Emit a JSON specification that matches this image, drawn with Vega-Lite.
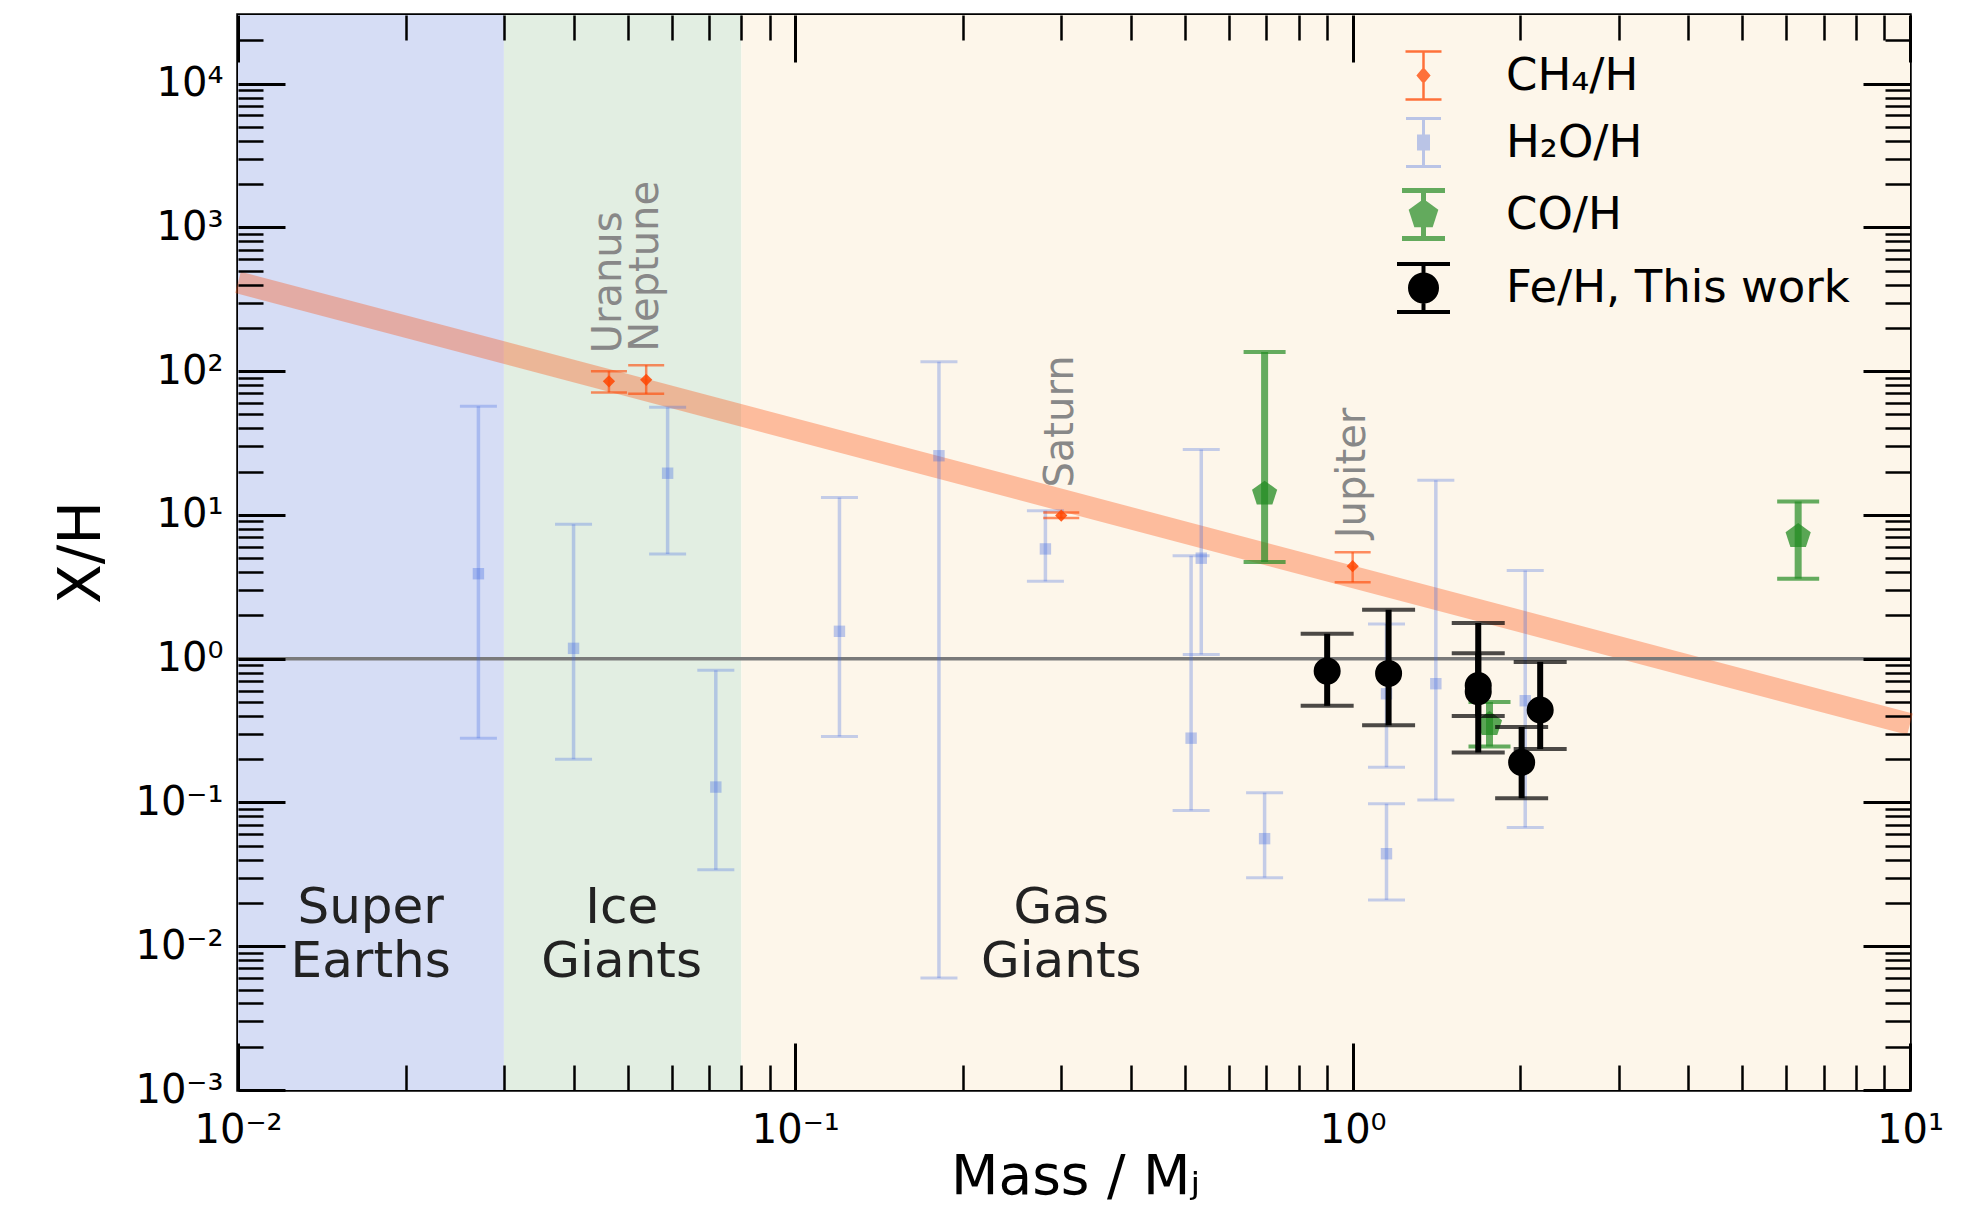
{
  "$schema": "https://vega.github.io/schema/vega-lite/v6.json",
  "width": 1672,
  "height": 1075,
  "autosize": {"type": "none"},
  "padding": {"left": 238, "top": 15, "right": 72, "bottom": 120},
  "background": "white",
  "config": {
    "view": {"stroke": "black", "strokeWidth": 3.5},
    "font": "DejaVu Sans",
    "axis": {"grid": false, "domain": false, "tickColor": "black", "labelColor": "black", "titleColor": "black", "labelFont": "DejaVu Sans", "titleFont": "DejaVu Sans", "titleFontWeight": "normal"}
  },
  "datasets": {
    "regions": [
      {"region": "Super Earths", "start": 0.01, "end": 0.03, "label": "Super\nEarths", "label_mass": 0.0173},
      {"region": "Ice Giants", "start": 0.03, "end": 0.08, "label": "Ice\nGiants", "label_mass": 0.0488},
      {"region": "Gas Giants", "start": 0.08, "end": 10, "label": "Gas\nGiants", "label_mass": 0.30}
    ],
    "band": [{"mass": 0.01, "value": 415}, {"mass": 10, "value": 0.35}],
    "ch4": [
      {"species": "CH₄/H", "planet": "Uranus", "mass": 0.0463, "value": 85, "lo": 71, "hi": 100},
      {"species": "CH₄/H", "planet": "Neptune", "mass": 0.054, "value": 87, "lo": 69.5, "hi": 110},
      {"species": "CH₄/H", "planet": "Saturn", "mass": 0.30, "value": 9.9, "lo": 9.5, "hi": 10.4},
      {"species": "CH₄/H", "planet": "Jupiter", "mass": 1.0, "value": 4.4, "lo": 3.4, "hi": 5.5}
    ],
    "h2o": [
      {"species": "H₂O/H", "mass": 0.027, "value": 3.9, "lo": 0.28, "hi": 57},
      {"species": "H₂O/H", "mass": 0.040, "value": 1.18, "lo": 0.2, "hi": 8.6},
      {"species": "H₂O/H", "mass": 0.059, "value": 19.5, "lo": 5.35, "hi": 56},
      {"species": "H₂O/H", "mass": 0.072, "value": 0.128, "lo": 0.034, "hi": 0.83},
      {"species": "H₂O/H", "mass": 0.12, "value": 1.55, "lo": 0.288, "hi": 13.2},
      {"species": "H₂O/H", "mass": 0.181, "value": 25.8, "lo": 0.006, "hi": 116},
      {"species": "H₂O/H", "mass": 0.281, "value": 5.8, "lo": 3.45, "hi": 10.7},
      {"species": "H₂O/H", "mass": 0.513, "value": 0.28, "lo": 0.088, "hi": 5.2},
      {"species": "H₂O/H", "mass": 0.535, "value": 5.0, "lo": 1.07, "hi": 28.5},
      {"species": "H₂O/H", "mass": 0.695, "value": 0.056, "lo": 0.030, "hi": 0.117},
      {"species": "H₂O/H", "mass": 1.15, "value": 0.044, "lo": 0.021, "hi": 0.098},
      {"species": "H₂O/H", "mass": 1.15, "value": 0.57, "lo": 0.176, "hi": 1.74},
      {"species": "H₂O/H", "mass": 1.41, "value": 0.67, "lo": 0.104, "hi": 17.4},
      {"species": "H₂O/H", "mass": 2.04, "value": 0.51, "lo": 0.067, "hi": 4.1}
    ],
    "co": [
      {"species": "CO/H", "mass": 0.695, "value": 14, "lo": 4.7, "hi": 136},
      {"species": "CO/H", "mass": 1.76, "value": 0.35, "lo": 0.245, "hi": 0.50},
      {"species": "CO/H", "mass": 6.3, "value": 7.1, "lo": 3.6, "hi": 12.4}
    ],
    "fe": [
      {"species": "Fe/H, This work", "mass": 0.90, "value": 0.82, "lo": 0.47, "hi": 1.49},
      {"species": "Fe/H, This work", "mass": 1.16, "value": 0.79, "lo": 0.344, "hi": 2.19},
      {"species": "Fe/H, This work", "mass": 1.68, "value": 0.59, "lo": 0.40, "hi": 1.09},
      {"species": "Fe/H, This work", "mass": 1.68, "value": 0.65, "lo": 0.223, "hi": 1.77},
      {"species": "Fe/H, This work", "mass": 2.01, "value": 0.19, "lo": 0.107, "hi": 0.335},
      {"species": "Fe/H, This work", "mass": 2.17, "value": 0.44, "lo": 0.235, "hi": 0.95}
    ]
  },
  "layer": [
    {
      "data": {"name": "regions"},
      "transform": [{"filter": "datum.region === 'Super Earths'"}],
      "mark": {"type": "rect", "color": "#d6ddf5"},
      "encoding": {
        "x": {"field": "start", "type": "quantitative", "scale": {"type": "log", "domain": [0.01, 10], "nice": false}, "axis": null},
        "x2": {"field": "end"}
      }
    },
    {
      "data": {"name": "regions"},
      "transform": [{"filter": "datum.region === 'Ice Giants'"}],
      "mark": {"type": "rect", "color": "#e2eee2"},
      "encoding": {
        "x": {"field": "start", "type": "quantitative", "scale": {"type": "log", "domain": [0.01, 10], "nice": false}, "axis": null},
        "x2": {"field": "end"}
      }
    },
    {
      "data": {"name": "regions"},
      "transform": [{"filter": "datum.region === 'Gas Giants'"}],
      "mark": {"type": "rect", "color": "#fdf6ea"},
      "encoding": {
        "x": {"field": "start", "type": "quantitative", "scale": {"type": "log", "domain": [0.01, 10], "nice": false}, "axis": null},
        "x2": {"field": "end"}
      }
    },
    {
      "data": {"name": "band"},
      "mark": {"type": "line", "color": "#ff4500", "opacity": 0.33, "strokeWidth": 22, "strokeCap": "butt"},
      "encoding": {
        "x": {"field": "mass", "type": "quantitative", "scale": {"type": "log", "domain": [0.01, 10], "nice": false}, "axis": null},
        "y": {"field": "value", "type": "quantitative", "scale": {"type": "log", "domain": [0.001, 30000], "nice": false}, "axis": null}
      }
    },
    {
      "data": {"values": [{}]},
      "mark": {"type": "rule", "color": "#7a7a7a", "strokeWidth": 3.5},
      "encoding": {
        "y": {"datum": 1, "type": "quantitative", "scale": {"type": "log", "domain": [0.001, 30000], "nice": false}, "axis": null}
      }
    },
    {
      "data": {"name": "h2o"},
      "mark": {"type": "rule", "color": "#4169e1", "opacity": 0.3, "strokeWidth": 3.5},
      "encoding": {
        "x": {"field": "mass", "type": "quantitative", "scale": {"type": "log", "domain": [0.01, 10], "nice": false},
          "axis": {"orient": "bottom", "zindex": 1, "values": [0.01, 0.1, 1, 10],
            "labelExpr": "datum.value < 0.05 ? '10⁻²' : datum.value < 0.5 ? '10⁻¹' : datum.value < 5 ? '10⁰' : '10¹'",
            "tickSize": -47, "tickWidth": 3, "labelFontSize": 40, "labelPadding": 99, "labelBaseline": "alphabetic", "labelAlign": "center",
            "labelFlush": false, "labelOverlap": false, "labelBound": false,
            "title": "Mass / Mⱼ", "titleFontSize": 55, "titleX": 837, "titleY": 103, "titleBaseline": "alphabetic", "titleAlign": "center"}},
        "y": {"field": "lo", "type": "quantitative", "scale": {"type": "log", "domain": [0.001, 30000], "nice": false},
          "axis": {"orient": "left", "zindex": 1, "values": [0.001, 0.01, 0.1, 1, 10, 100, 1000, 10000],
            "labelExpr": "datum.value < 0.005 ? '10⁻³' : datum.value < 0.05 ? '10⁻²' : datum.value < 0.5 ? '10⁻¹' : datum.value < 5 ? '10⁰' : datum.value < 50 ? '10¹' : datum.value < 500 ? '10²' : datum.value < 5000 ? '10³' : '10⁴'",
            "tickSize": -47, "tickWidth": 3, "labelFontSize": 40, "labelPadding": 62, "labelAlign": "right", "labelBaseline": "middle",
            "labelFlush": false, "labelOverlap": false, "labelBound": false,
            "title": "X/H", "titleFontSize": 58, "titleX": -156, "titleY": 537, "titleAngle": 270, "titleBaseline": "middle", "titleAlign": "center"}},
        "y2": {"field": "hi"}
      }
    },
    {
      "data": {"name": "h2o"},
      "mark": {"type": "tick", "orient": "horizontal", "color": "#4169e1", "opacity": 0.3, "size": 37, "thickness": 3},
      "encoding": {
        "x": {"field": "mass", "type": "quantitative", "scale": {"type": "log", "domain": [0.01, 10], "nice": false}, "axis": null},
        "y": {"field": "lo", "type": "quantitative", "scale": {"type": "log", "domain": [0.001, 30000], "nice": false}, "axis": null}
      }
    },
    {
      "data": {"name": "h2o"},
      "mark": {"type": "tick", "orient": "horizontal", "color": "#4169e1", "opacity": 0.3, "size": 37, "thickness": 3},
      "encoding": {
        "x": {"field": "mass", "type": "quantitative", "scale": {"type": "log", "domain": [0.01, 10], "nice": false}, "axis": null},
        "y": {"field": "hi", "type": "quantitative", "scale": {"type": "log", "domain": [0.001, 30000], "nice": false}, "axis": null}
      }
    },
    {
      "data": {"name": "h2o"},
      "mark": {"type": "point", "filled": true, "shape": "square", "size": 130, "opacity": 0.35, "color": "#4169e1"},
      "encoding": {
        "x": {"field": "mass", "type": "quantitative", "scale": {"type": "log", "domain": [0.01, 10], "nice": false},
          "axis": {"orient": "bottom", "zindex": 1, "values": [0.02, 0.03, 0.04, 0.05, 0.06, 0.07, 0.08, 0.09, 0.2, 0.3, 0.4, 0.5, 0.6, 0.7, 0.8, 0.9, 2, 3, 4, 5, 6, 7, 8, 9],
            "labels": false, "tickSize": -25, "tickWidth": 2.5, "title": null}},
        "y": {"field": "value", "type": "quantitative", "scale": {"type": "log", "domain": [0.001, 30000], "nice": false},
          "axis": {"orient": "left", "zindex": 1, "values": [0.002, 0.003, 0.004, 0.005, 0.006, 0.007, 0.008, 0.009, 0.02, 0.03, 0.04, 0.05, 0.06, 0.07, 0.08, 0.09, 0.2, 0.3, 0.4, 0.5, 0.6, 0.7, 0.8, 0.9, 2, 3, 4, 5, 6, 7, 8, 9, 20, 30, 40, 50, 60, 70, 80, 90, 200, 300, 400, 500, 600, 700, 800, 900, 2000, 3000, 4000, 5000, 6000, 7000, 8000, 9000, 20000],
            "labels": false, "tickSize": -25, "tickWidth": 2.5, "title": null}}
      }
    },
    {
      "data": {"name": "ch4"},
      "mark": {"type": "rule", "color": "#ff4500", "opacity": 0.6, "strokeWidth": 2.5},
      "encoding": {
        "x": {"field": "mass", "type": "quantitative", "scale": {"type": "log", "domain": [0.01, 10], "nice": false},
          "axis": {"orient": "top", "zindex": 1, "values": [0.01, 0.1, 1, 10], "labels": false, "tickSize": -47, "tickWidth": 3, "title": null}},
        "y": {"field": "lo", "type": "quantitative", "scale": {"type": "log", "domain": [0.001, 30000], "nice": false},
          "axis": {"orient": "right", "zindex": 1, "values": [0.001, 0.01, 0.1, 1, 10, 100, 1000, 10000], "labels": false, "tickSize": -47, "tickWidth": 3, "title": null}},
        "y2": {"field": "hi"}
      }
    },
    {
      "data": {"name": "ch4"},
      "mark": {"type": "tick", "orient": "horizontal", "color": "#ff4500", "opacity": 0.6, "size": 36, "thickness": 2.5},
      "encoding": {
        "x": {"field": "mass", "type": "quantitative", "scale": {"type": "log", "domain": [0.01, 10], "nice": false}, "axis": null},
        "y": {"field": "lo", "type": "quantitative", "scale": {"type": "log", "domain": [0.001, 30000], "nice": false}, "axis": null}
      }
    },
    {
      "data": {"name": "ch4"},
      "mark": {"type": "tick", "orient": "horizontal", "color": "#ff4500", "opacity": 0.6, "size": 36, "thickness": 2.5},
      "encoding": {
        "x": {"field": "mass", "type": "quantitative", "scale": {"type": "log", "domain": [0.01, 10], "nice": false}, "axis": null},
        "y": {"field": "hi", "type": "quantitative", "scale": {"type": "log", "domain": [0.001, 30000], "nice": false}, "axis": null}
      }
    },
    {
      "data": {"name": "ch4"},
      "mark": {"type": "point", "filled": true, "shape": "diamond", "size": 150, "opacity": 0.85, "color": "#ff4500"},
      "encoding": {
        "x": {"field": "mass", "type": "quantitative", "scale": {"type": "log", "domain": [0.01, 10], "nice": false},
          "axis": {"orient": "top", "zindex": 1, "values": [0.02, 0.03, 0.04, 0.05, 0.06, 0.07, 0.08, 0.09, 0.2, 0.3, 0.4, 0.5, 0.6, 0.7, 0.8, 0.9, 2, 3, 4, 5, 6, 7, 8, 9],
            "labels": false, "tickSize": -25, "tickWidth": 2.5, "title": null}},
        "y": {"field": "value", "type": "quantitative", "scale": {"type": "log", "domain": [0.001, 30000], "nice": false},
          "axis": {"orient": "right", "zindex": 1, "values": [0.002, 0.003, 0.004, 0.005, 0.006, 0.007, 0.008, 0.009, 0.02, 0.03, 0.04, 0.05, 0.06, 0.07, 0.08, 0.09, 0.2, 0.3, 0.4, 0.5, 0.6, 0.7, 0.8, 0.9, 2, 3, 4, 5, 6, 7, 8, 9, 20, 30, 40, 50, 60, 70, 80, 90, 200, 300, 400, 500, 600, 700, 800, 900, 2000, 3000, 4000, 5000, 6000, 7000, 8000, 9000, 20000],
            "labels": false, "tickSize": -25, "tickWidth": 2.5, "title": null}}
      }
    },
    {
      "data": {"name": "co"},
      "mark": {"type": "rule", "color": "#228b22", "opacity": 0.7, "strokeWidth": 7},
      "encoding": {
        "x": {"field": "mass", "type": "quantitative", "scale": {"type": "log", "domain": [0.01, 10], "nice": false}, "axis": null},
        "y": {"field": "lo", "type": "quantitative", "scale": {"type": "log", "domain": [0.001, 30000], "nice": false}, "axis": null},
        "y2": {"field": "hi"}
      }
    },
    {
      "data": {"name": "co"},
      "mark": {"type": "tick", "orient": "horizontal", "color": "#228b22", "opacity": 0.7, "size": 42, "thickness": 4},
      "encoding": {
        "x": {"field": "mass", "type": "quantitative", "scale": {"type": "log", "domain": [0.01, 10], "nice": false}, "axis": null},
        "y": {"field": "lo", "type": "quantitative", "scale": {"type": "log", "domain": [0.001, 30000], "nice": false}, "axis": null}
      }
    },
    {
      "data": {"name": "co"},
      "mark": {"type": "tick", "orient": "horizontal", "color": "#228b22", "opacity": 0.7, "size": 42, "thickness": 4},
      "encoding": {
        "x": {"field": "mass", "type": "quantitative", "scale": {"type": "log", "domain": [0.01, 10], "nice": false}, "axis": null},
        "y": {"field": "hi", "type": "quantitative", "scale": {"type": "log", "domain": [0.001, 30000], "nice": false}, "axis": null}
      }
    },
    {
      "data": {"name": "co"},
      "mark": {"type": "point", "filled": true, "shape": "M0,-1L0.951,-0.309L0.588,0.809L-0.588,0.809L-0.951,-0.309Z", "size": 700, "opacity": 0.75, "color": "#228b22"},
      "encoding": {
        "x": {"field": "mass", "type": "quantitative", "scale": {"type": "log", "domain": [0.01, 10], "nice": false}, "axis": null},
        "y": {"field": "value", "type": "quantitative", "scale": {"type": "log", "domain": [0.001, 30000], "nice": false}, "axis": null}
      }
    },
    {
      "data": {"name": "fe"},
      "mark": {"type": "rule", "color": "#000000", "strokeWidth": 6},
      "encoding": {
        "x": {"field": "mass", "type": "quantitative", "scale": {"type": "log", "domain": [0.01, 10], "nice": false}, "axis": null},
        "y": {"field": "lo", "type": "quantitative", "scale": {"type": "log", "domain": [0.001, 30000], "nice": false}, "axis": null},
        "y2": {"field": "hi"}
      }
    },
    {
      "data": {"name": "fe"},
      "mark": {"type": "tick", "orient": "horizontal", "color": "#000000", "size": 53, "thickness": 4},
      "encoding": {
        "x": {"field": "mass", "type": "quantitative", "scale": {"type": "log", "domain": [0.01, 10], "nice": false}, "axis": null},
        "y": {"field": "lo", "type": "quantitative", "scale": {"type": "log", "domain": [0.001, 30000], "nice": false}, "axis": null}
      }
    },
    {
      "data": {"name": "fe"},
      "mark": {"type": "tick", "orient": "horizontal", "color": "#000000", "size": 53, "thickness": 4},
      "encoding": {
        "x": {"field": "mass", "type": "quantitative", "scale": {"type": "log", "domain": [0.01, 10], "nice": false}, "axis": null},
        "y": {"field": "hi", "type": "quantitative", "scale": {"type": "log", "domain": [0.001, 30000], "nice": false}, "axis": null}
      }
    },
    {
      "data": {"name": "fe"},
      "mark": {"type": "point", "filled": true, "shape": "circle", "size": 730, "opacity": 1, "color": "#000000"},
      "encoding": {
        "x": {"field": "mass", "type": "quantitative", "scale": {"type": "log", "domain": [0.01, 10], "nice": false}, "axis": null},
        "y": {"field": "value", "type": "quantitative", "scale": {"type": "log", "domain": [0.001, 30000], "nice": false}, "axis": null}
      }
    },
    {
      "data": {"name": "ch4"},
      "mark": {"type": "text", "angle": 270, "align": "left", "baseline": "middle", "dx": 28, "fontSize": 40, "color": "#888888", "font": "DejaVu Sans"},
      "encoding": {
        "x": {"field": "mass", "type": "quantitative", "scale": {"type": "log", "domain": [0.01, 10], "nice": false}, "axis": null},
        "y": {"field": "value", "type": "quantitative", "scale": {"type": "log", "domain": [0.001, 30000], "nice": false}, "axis": null},
        "text": {"field": "planet"}
      }
    },
    {
      "data": {"name": "regions"},
      "mark": {"type": "text", "align": "center", "baseline": "alphabetic", "fontSize": 50, "lineHeight": 54, "lineBreak": "\n", "color": "#222222", "font": "DejaVu Sans"},
      "encoding": {
        "x": {"field": "label_mass", "type": "quantitative", "scale": {"type": "log", "domain": [0.01, 10], "nice": false}, "axis": null},
        "y": {"datum": 0.01452, "type": "quantitative", "scale": {"type": "log", "domain": [0.001, 30000], "nice": false}, "axis": null},
        "text": {"field": "label"}
      }
    },
    {
      "data": {"values": []},
      "mark": {"type": "point", "filled": true, "size": 2500, "opacity": 1},
      "encoding": {
        "fill": {"field": "species", "type": "nominal",
          "scale": {"domain": ["CH₄/H", "H₂O/H", "CO/H", "Fe/H, This work"], "range": ["#ff4500", "#4169e1", "#228b22", "#000000"]},
          "legend": {"orient": "none", "legendX": 1158, "legendY": 34, "direction": "vertical", "title": null,
            "labelFont": "DejaVu Sans", "labelFontSize": 45, "labelColor": "black", "labelLimit": 0, "labelOffset": 55,
            "symbolSize": 2500, "rowPadding": 7, "padding": 0}},
        "stroke": {"field": "species", "type": "nominal",
          "scale": {"domain": ["CH₄/H", "H₂O/H", "CO/H", "Fe/H, This work"], "range": ["#ff4500", "#4169e1", "#228b22", "#000000"]}},
        "shape": {"field": "species", "type": "nominal",
          "scale": {"domain": ["CH₄/H", "H₂O/H", "CO/H", "Fe/H, This work"], "range": [
            "M-0.72,-0.96H0.72M0,-0.96V0.96M-0.72,0.96H0.72M0,-0.26L0.22,0L0,0.26L-0.22,0Z",
            "M-0.7,-0.96H0.7M0,-0.96V0.96M-0.7,0.96H0.7M-0.2,-0.26H0.2V0.26H-0.2Z",
            "M-0.86,-0.96H0.86M0,-0.96V0.96M-0.86,0.96H0.86M0,-0.5L0.476,-0.155L0.294,0.405L-0.294,0.405L-0.476,-0.155Z",
            "M-1.06,-0.96H1.06M0,-0.96V0.96M-1.06,0.96H1.06M0,-0.54A0.54,0.54 0 1,1 0,0.54A0.54,0.54 0 1,1 0,-0.54Z"]}},
        "opacity": {"field": "species", "type": "nominal",
          "scale": {"type": "ordinal", "domain": ["CH₄/H", "H₂O/H", "CO/H", "Fe/H, This work"], "range": [0.75, 0.35, 0.7, 1]}},
        "strokeWidth": {"field": "species", "type": "nominal",
          "scale": {"type": "ordinal", "domain": ["CH₄/H", "H₂O/H", "CO/H", "Fe/H, This work"], "range": [2.5, 3, 5, 4]}}
      }
    }
  ],
  "resolve": {"axis": {"x": "independent", "y": "independent"}}
}
